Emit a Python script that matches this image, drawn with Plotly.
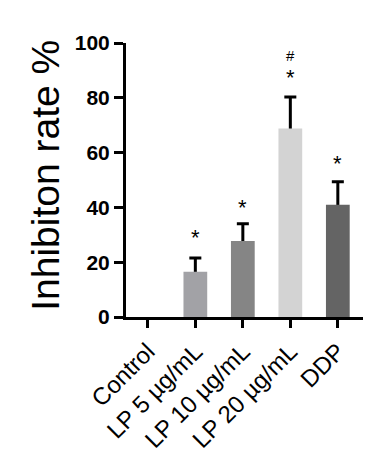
import plotly.graph_objects as go

categories = ["Control", "LP 5 µg/mL", "LP 10 µg/mL", "LP 20 µg/mL", "DDP"]
values = [0, 16.5, 27.7, 68.8, 41.0]
errors = [0, 5.0, 6.3, 11.5, 8.4]
colors = ["#ffffff", "#a2a2a6", "#858585", "#d3d3d3", "#646464"]
marks = ["", "*", "*", "*", "*"]
mark_y = [0, 29.1, 39.9, 87.3, 55.9]
hash_marks = ["", "", "", "#", ""]
hash_y = [0, 0, 0, 95.6, 0]
y_ticks = [0, 20, 40, 60, 80, 100]

err_y = [v if e > 0 else None for v, e in zip(values, errors)]

fig = go.Figure()
# error bars (upper only), drawn beneath the bars
fig.add_trace(go.Bar(
    x=categories, y=err_y, width=0.5,
    marker=dict(color="rgba(0,0,0,0)", line=dict(width=0)),
    error_y=dict(type="data", symmetric=False, array=errors, arrayminus=values,
                 color="black", thickness=3, width=6),
    hoverinfo="skip", showlegend=False,
))
fig.add_trace(go.Bar(
    x=categories, y=values, width=0.5,
    marker=dict(color=colors, line=dict(width=0)),
    showlegend=False,
))

for c, m, y in zip(categories, marks, mark_y):
    if m:
        fig.add_annotation(x=c, y=y, text=m, showarrow=False, yanchor="middle",
                           font=dict(family="Liberation Sans", size=22, color="black"))
for c, m, y in zip(categories, hash_marks, hash_y):
    if m:
        fig.add_annotation(x=c, y=y, text=m, showarrow=False, yanchor="middle",
                           font=dict(family="Liberation Sans", size=15, color="black"))

fig.add_annotation(xref="paper", yref="paper", x=-0.34, y=0.517, text="Inhibiton rate %",
                   textangle=-90, showarrow=False, xanchor="center", yanchor="middle",
                   font=dict(family="Liberation Sans", size=39, color="black"))

# page body has an 8px default margin; size the figure so the plot lands where it should
fig.update_layout(
    width=371, height=468,
    margin=dict(l=118, r=16, t=35, b=159, autoexpand=False),
    paper_bgcolor="white", plot_bgcolor="white",
    barmode="overlay",
    xaxis=dict(range=[-0.46, 4.53], showline=True, linecolor="black", linewidth=3,
               ticks="outside", ticklen=8, tickwidth=3, tickcolor="black",
               tickangle=-45, showgrid=False, zeroline=False, automargin=False,
               tickfont=dict(family="Liberation Sans", size=24, color="black")),
    yaxis=dict(range=[0, 100], tickvals=y_ticks, showline=True, linecolor="black",
               linewidth=3, ticks="outside", ticklen=9, tickwidth=3, tickcolor="black",
               showgrid=False, zeroline=False, automargin=False,
               tickfont=dict(family="Liberation Sans", size=21, color="black", weight="bold")),
)

fig.write_html("out.html")
